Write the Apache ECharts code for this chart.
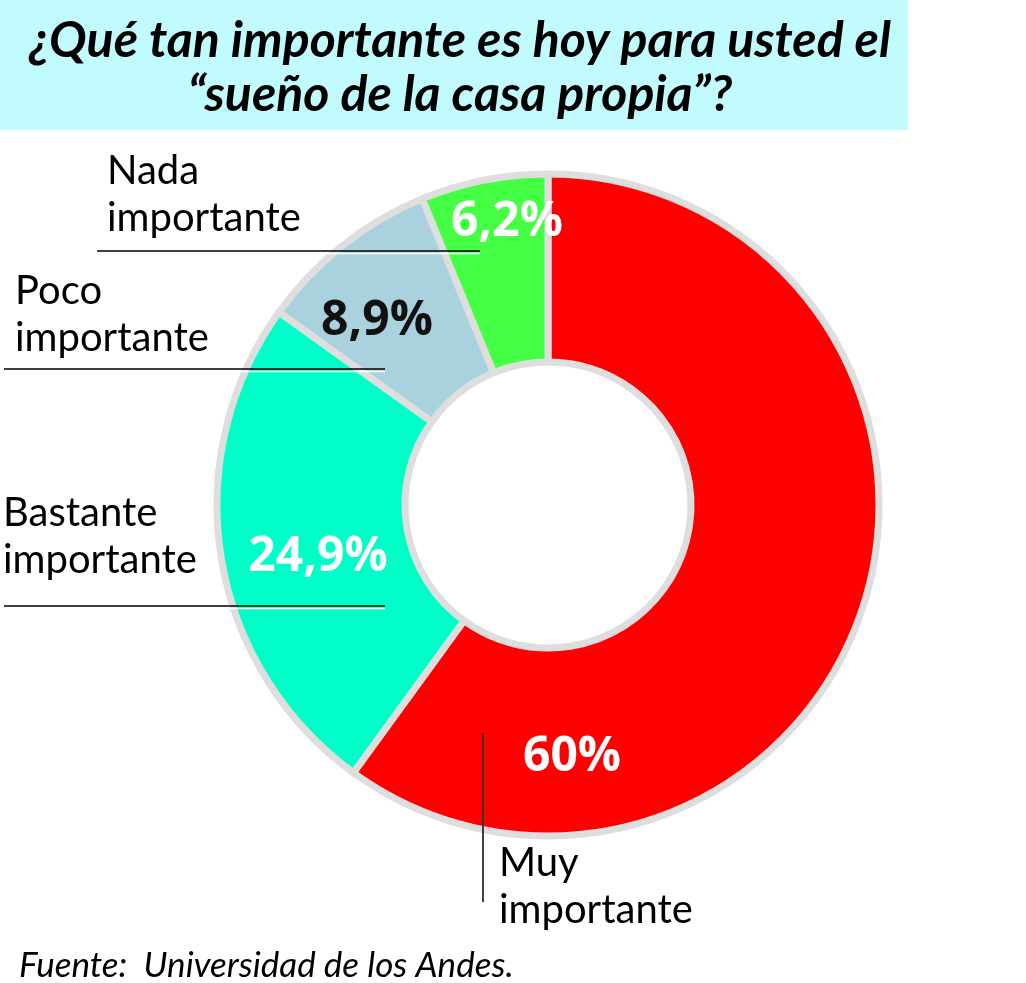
<!DOCTYPE html>
<html>
<head>
<meta charset="utf-8">
<script src="https://cdn.jsdelivr.net/npm/echarts@6/dist/echarts.min.js"></script>
<style>
html,body{margin:0;padding:0;background:#fff;}
#chart{width:1026px;height:983px;}
</style>
</head>
<body>
<div id="chart"></div>
<script>
// ---- data ----
const categories = ['Muy importante', 'Bastante importante', 'Poco importante', 'Nada importante'];
const values = [60, 24.9, 8.9, 6.2];
const sliceColors = ['#ff0000', '#00ffc8', '#a9d2de', '#44ff44'];
const pctColors = ['#ffffff', '#ffffff', '#111111', '#ffffff'];
const titleText = '¿Qué tan importante es hoy para usted el\n“sueño de la casa propia”?';
const sourceText = 'Fuente:  Universidad de los Andes.';

// ---- layout (positions of annotations, not data) ----
const pctPos = [[572, 757], [318, 557], [377, 321], [507, 222]];
const namePos = [[499, 840], [3, 490], [15, 268], [107, 148]];
const leaderLines = [
  [[483, 733], [483, 902]],
  [[4, 606], [385, 606]],
  [[4, 369], [385, 369]],
  [[97, 251], [480, 251]]
];

const fmtPct = v => String(v).replace('.', ',') + '%';
const data = categories.map((c, i) => ({
  name: c, value: values[i],
  itemStyle: { color: sliceColors[i] },
  label: { color: pctColors[i] }
}));
const data2 = categories.map((c, i) => ({ name: c, value: values[i] }));

const chart = echarts.init(document.getElementById('chart'), null, { renderer: 'canvas' });
chart.setOption({
  animation: false,
  backgroundColor: '#ffffff',
  graphic: [{
    type: 'rect', z: -10, silent: true,
    shape: { x: 0, y: 0, width: 908, height: 130 },
    style: { fill: '#c2fbfd' }
  }],
  title: [{
    text: titleText,
    left: 455, top: 9, textAlign: 'center',
    textStyle: {
      fontFamily: 'Lato, sans-serif',
      fontStyle: 'italic', fontWeight: 'bold', fontSize: 50, lineHeight: 54, color: '#000'
    }
  }, {
    text: sourceText,
    left: 14, top: 943,
    textStyle: {
      fontFamily: 'Lato, sans-serif', fontStyle: 'italic', fontWeight: 'normal',
      fontSize: 35, color: '#000'
    }
  }],
  series: [{
    type: 'pie',
    z: 2,
    center: [548, 505],
    radius: [143, 331],
    startAngle: 90,
    clockwise: true,
    avoidLabelOverlap: false,
    emphasis: { disabled: true },
    itemStyle: { borderColor: '#dedede', borderWidth: 7 },
    label: {
      show: true, position: 'inside',
      formatter: p => fmtPct(p.value),
      fontFamily: "'Open Sans', sans-serif", fontWeight: 'bold', fontSize: 48
    },
    labelLayout: p => ({
      x: pctPos[p.dataIndex][0], y: pctPos[p.dataIndex][1],
      align: 'center', verticalAlign: 'middle'
    }),
    data: data
  }, {
    type: 'pie',
    z: 5,
    center: [548, 505],
    radius: [143, 331],
    startAngle: 90,
    clockwise: true,
    silent: true,
    avoidLabelOverlap: false,
    emphasis: { disabled: true },
    itemStyle: { color: 'rgba(0,0,0,0)', borderWidth: 0 },
    label: {
      show: true, position: 'outside',
      formatter: p => p.name.replace(' ', '\n'),
      fontFamily: 'Lato, sans-serif', fontSize: 40, lineHeight: 47, color: '#000',
      align: 'left'
    },
    labelLine: {
      show: true,
      lineStyle: { color: '#000', width: 1.5, shadowColor: '#ffffff', shadowBlur: 0, shadowOffsetY: 2.5, shadowOffsetX: 0 }
    },
    labelLayout: p => ({
      x: namePos[p.dataIndex][0], y: namePos[p.dataIndex][1],
      align: 'left', verticalAlign: 'top',
      labelLinePoints: leaderLines[p.dataIndex]
    }),
    data: data2
  }]
});
</script>
</body>
</html>
